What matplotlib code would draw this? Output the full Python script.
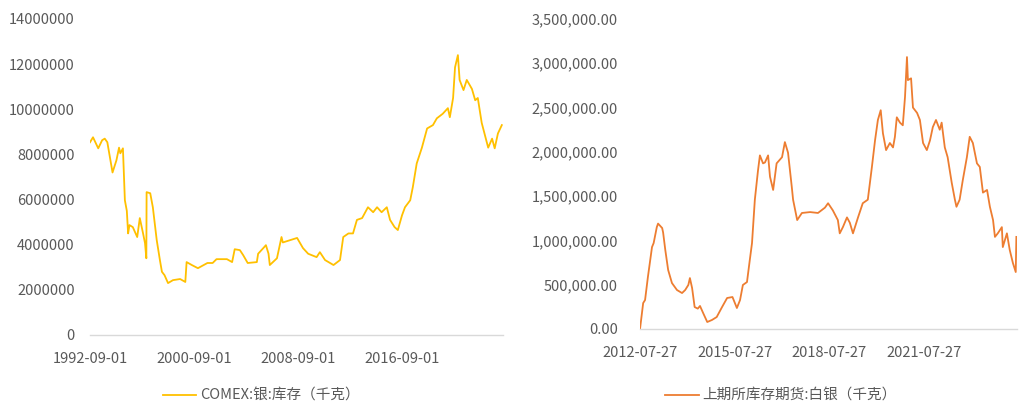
import numpy as np
import pandas as pd
import matplotlib
matplotlib.use('Agg')
import matplotlib.pyplot as plt
from matplotlib.ticker import FuncFormatter

plt.rcParams['font.family'] = ['Noto Sans CJK SC', 'DejaVu Sans']

# COMEX silver inventory (kg), x in decimal years
comex_t = [1992.67, 1992.9, 1993.3, 1993.6, 1993.8, 1994.0, 1994.4, 1994.7, 1994.9, 1995.0,
           1995.2, 1995.35, 1995.5, 1995.6, 1995.7, 1995.96, 1996.3, 1996.5, 1996.75, 1996.9,
           1997.0, 1997.02, 1997.3, 1997.5, 1997.8, 1998.05, 1998.2, 1998.4, 1998.67, 1999.05,
           1999.6, 2000.0, 2000.1, 2000.5, 2000.97, 2001.7, 2002.1, 2002.4, 2003.2, 2003.6,
           2003.8, 2004.2, 2004.45, 2004.8, 2005.5, 2005.6, 2006.0, 2006.2, 2006.4, 2006.5,
           2007.05, 2007.4, 2007.5, 2008.05, 2008.6, 2009.05, 2009.45, 2010.1, 2010.35, 2010.75,
           2011.4, 2011.9, 2012.15, 2012.55, 2012.9, 2013.2, 2013.6, 2014.05, 2014.45, 2014.75,
           2015.1, 2015.5, 2015.75, 2016.1, 2016.35, 2016.67, 2016.9, 2017.3, 2017.5, 2017.8,
           2018.2, 2018.6, 2019.05, 2019.35, 2019.8, 2020.2, 2020.35, 2020.6, 2020.75, 2020.97,
           2021.1, 2021.4, 2021.65, 2022.05, 2022.3, 2022.5, 2022.8, 2023.3, 2023.6, 2023.8,
           2024.05, 2024.35]
comex_v = [8.54, 8.76, 8.27, 8.63, 8.70, 8.54, 7.20, 7.74, 8.30, 8.05,
           8.27, 5.97, 5.50, 4.50, 4.87, 4.78, 4.34, 5.18, 4.50, 4.07,
           3.40, 6.33, 6.28, 5.66, 4.20, 3.30, 2.80, 2.65, 2.30, 2.43,
           2.48, 2.35, 3.23, 3.10, 2.96, 3.19, 3.19, 3.36, 3.36, 3.23,
           3.80, 3.76, 3.54, 3.19, 3.23, 3.60, 3.85, 3.98, 3.60, 3.10,
           3.40, 4.34, 4.10, 4.20, 4.30, 3.85, 3.60, 3.45, 3.67, 3.32,
           3.10, 3.32, 4.34, 4.50, 4.50, 5.10, 5.18, 5.66, 5.44, 5.66,
           5.44, 5.66, 5.10, 4.78, 4.65, 5.30, 5.66, 5.97, 6.55, 7.60,
           8.30, 9.15, 9.30, 9.60, 9.80, 10.05, 9.65, 10.50, 11.86, 12.40,
           11.30, 10.85, 11.30, 10.90, 10.40, 10.50, 9.40, 8.30, 8.70, 8.27,
           8.93, 9.30]

# SHFE silver futures inventory (kg)
shfe_t = [2012.57, 2012.67, 2012.73, 2012.82, 2012.95, 2013.0, 2013.1, 2013.14, 2013.27, 2013.3,
          2013.37, 2013.46, 2013.58, 2013.74, 2013.9, 2014.0, 2014.1, 2014.15, 2014.22, 2014.3,
          2014.4, 2014.47, 2014.57, 2014.7, 2014.85, 2015.0, 2015.17, 2015.33, 2015.5, 2015.64, 2015.74,
          2015.83, 2015.96, 2016.05, 2016.12, 2016.21, 2016.31, 2016.37, 2016.47, 2016.53, 2016.63,
          2016.69, 2016.79, 2016.9, 2017.07, 2017.16, 2017.26, 2017.38, 2017.42, 2017.55, 2017.7,
          2017.96, 2018.21, 2018.43, 2018.53, 2018.68, 2018.84, 2018.9, 2019.0, 2019.13, 2019.22,
          2019.32, 2019.48, 2019.63, 2019.79, 2019.92, 2020.02, 2020.11, 2020.2, 2020.27, 2020.37,
          2020.49, 2020.59, 2020.65, 2020.71, 2020.81, 2020.9, 2020.97, 2021.03, 2021.06, 2021.16,
          2021.22, 2021.35, 2021.44, 2021.54, 2021.66, 2021.76, 2021.85, 2021.95, 2022.07, 2022.13,
          2022.23, 2022.32, 2022.45, 2022.55, 2022.6, 2022.7, 2022.8, 2022.93, 2023.02, 2023.12,
          2023.25, 2023.34, 2023.44, 2023.57, 2023.66, 2023.76, 2023.82, 2023.91, 2024.04, 2024.07,
          2024.2, 2024.29, 2024.39, 2024.48, 2024.5]
shfe_v = [0, 293, 327, 587, 925, 970, 1150, 1190, 1140, 1090,
          890, 666, 519, 440, 406, 440, 497, 575, 462, 248,
          230, 260, 180, 79, 102, 135, 248, 350, 361, 237, 327,
          497, 530, 779, 970, 1460, 1790, 1960, 1870, 1880, 1960,
          1720, 1570, 1870, 1940, 2110, 1990, 1600, 1460, 1230, 1310,
          1320, 1310, 1370, 1420, 1340, 1230, 1080, 1150, 1260, 1200,
          1080, 1260, 1420, 1460, 1830, 2130, 2360, 2470, 2210, 2020,
          2100, 2050, 2170, 2390, 2330, 2300, 2620, 3070, 2810, 2830,
          2500, 2440, 2360, 2100, 2020, 2130, 2280, 2360, 2250, 2330,
          2050, 1940, 1650, 1460, 1380, 1460, 1680, 1940, 2170, 2100,
          1870, 1830, 1540, 1570, 1380, 1230, 1040, 1080, 1150, 925,
          1080, 892, 745, 643, 1040]

left_ticks = ['1992-09-01', '2000-09-01', '2008-09-01', '2016-09-01']
right_ticks = ['2012-07-27', '2015-07-27', '2018-07-27', '2021-07-27']


def to_date(y):
    y = np.asarray(y, dtype=float)
    base = pd.to_datetime(np.floor(y).astype(int).astype(str), format='%Y')
    return base + pd.to_timedelta((y - np.floor(y)) * 365.25, unit='D')


GREY = '#595959'


def style(ax):
    for s in ['top', 'left', 'right']:
        ax.spines[s].set_visible(False)
    ax.spines['bottom'].set_color('#d9d9d9')
    ax.spines['bottom'].set_linewidth(1.0)
    ax.tick_params(length=0, labelsize=10.5, colors=GREY)


fig = plt.figure(figsize=(10.27, 4.09), dpi=100)

ax1 = fig.add_axes([90 / 1027, 1 - 335 / 409, 413 / 1027, 316 / 409])
l1, = ax1.plot(to_date(comex_t), np.array(comex_v) * 1e6, color='#FFC000', lw=1.3)
ax1.set_ylim(0, 14e6)
ax1.set_yticks(np.arange(0, 14e6 + 1, 2e6))
ax1.yaxis.set_major_formatter(FuncFormatter(lambda v, p: '%d' % v))
ax1.set_xlim(pd.Timestamp('1992-09-01'), to_date([2024.44])[0])
ax1.set_xticks(pd.to_datetime(left_ticks))
ax1.set_xticklabels(left_ticks)
style(ax1)
ax1.tick_params(axis='x', pad=12)
ax1.tick_params(axis='y', pad=11)

ax2 = fig.add_axes([640 / 1027, 1 - 329 / 409, 377 / 1027, 310 / 409])
l2, = ax2.plot(to_date(shfe_t), np.array(shfe_v) * 1e3, color='#ED7D31', lw=1.3)
ax2.set_ylim(0, 3.5e6)
ax2.set_yticks(np.arange(0, 3.5e6 + 1, 5e5))
ax2.yaxis.set_major_formatter(FuncFormatter(lambda v, p: '{:,.2f}'.format(v)))
ax2.set_xlim(pd.Timestamp('2012-07-27'), to_date([2024.52])[0])
ax2.set_xticks(pd.to_datetime(right_ticks))
ax2.set_xticklabels(right_ticks)
style(ax2)
ax2.tick_params(axis='x', pad=12)
ax2.tick_params(axis='y', pad=16)

fig.legend([l1], ['COMEX:银:库存（千克）'], loc='center', bbox_to_anchor=(261 / 1027, 1 - 396 / 409),
           frameon=False, fontsize=10.5, labelcolor=GREY, handlelength=2.3, handletextpad=0.25)
fig.legend([l2], ['上期所库存期货:白银（千克）'], loc='center', bbox_to_anchor=(781 / 1027, 1 - 396 / 409),
           frameon=False, fontsize=10.5, labelcolor=GREY, handlelength=2.3, handletextpad=0.25)

fig.savefig('out.png', dpi=100)
